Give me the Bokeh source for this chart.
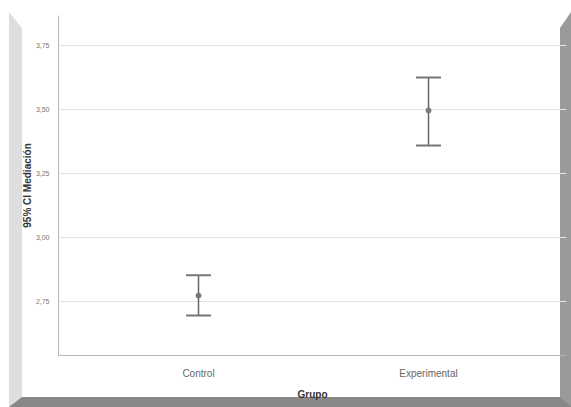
from bokeh.plotting import figure
from bokeh.models import ColumnDataSource, Whisker, TeeHead, FixedTicker, InlineStyleSheet
from bokeh.embed import file_html
from bokeh.resources import INLINE

# Group means of "Mediación" with their 95% confidence limits
groups = ["Control", "Experimental"]
means = [2.773, 3.496]
ci_lower = [2.695, 3.359]
ci_upper = [2.852, 3.625]

y_ticks = [2.75, 3.00, 3.25, 3.50, 3.75]
y_tick_labels = ["2,75", "3,00", "3,25", "3,50", "3,75"]

pos = list(range(len(groups)))
src = ColumnDataSource(dict(x=pos, mean=means, lo=ci_lower, hi=ci_upper))

# beveled frame painted behind the (transparent) chart canvas
frame_css = InlineStyleSheet(css="""
:host { position: relative; background: white; }
:host::before {
  content: "";
  position: absolute;
  left: 9px; top: 12px; right: 0px; bottom: 0px;
  box-sizing: border-box;
  border-top: 16px solid transparent;
  border-left: 13px solid #dedede;
  border-right: 11px solid #9a9a9a;
  border-bottom: 10px solid #888888;
  pointer-events: none;
}
""")

p = figure(width=571, height=407, output_backend="svg", toolbar_location=None,
           x_range=(-0.6087, 1.6), y_range=(2.539, 3.867),
           min_border_left=58, min_border_right=5, min_border_top=15,
           min_border_bottom=52)
p.stylesheets = [frame_css]
p.outline_line_color = None
p.background_fill_color = None
p.border_fill_color = None

# y axis
p.yaxis.ticker = FixedTicker(ticks=y_ticks)
p.yaxis.major_label_overrides = dict(zip(y_ticks, y_tick_labels))
p.yaxis.major_tick_line_color = None
p.yaxis.minor_tick_line_color = None
p.yaxis.axis_line_color = "#b5b5b5"
p.yaxis.major_label_text_font = "Liberation Sans"
p.yaxis.major_label_text_font_size = "7px"
p.yaxis.major_label_text_color = "#777777"
p.yaxis.major_label_standoff = 3
p.yaxis.axis_label = "95% CI Mediación"
p.yaxis.axis_label_text_font = "Liberation Sans"
p.yaxis.axis_label_text_font_style = "bold"
p.yaxis.axis_label_text_font_size = "10px"
p.yaxis.axis_label_text_color = "#333333"
p.yaxis.axis_label_standoff = 0

# x axis
p.xaxis.ticker = FixedTicker(ticks=pos)
p.xaxis.major_label_overrides = {i: g for i, g in zip(pos, groups)}
p.xaxis.major_tick_line_color = None
p.xaxis.minor_tick_line_color = None
p.xaxis.axis_line_color = "#b5b5b5"
p.xaxis.major_label_text_font = "Liberation Sans"
p.xaxis.major_label_text_font_size = "10px"
p.xaxis.major_label_text_color = "#666666"
p.xaxis.major_label_standoff = 6
p.xaxis.axis_label = "Grupo"
p.xaxis.axis_label_text_font = "Liberation Sans"
p.xaxis.axis_label_text_font_style = "bold"
p.xaxis.axis_label_text_font_size = "10px"
p.xaxis.axis_label_text_color = "#333333"
p.xaxis.axis_label_standoff = 7

p.xgrid.grid_line_color = None
p.ygrid.ticker = FixedTicker(ticks=y_ticks)
p.ygrid.grid_line_color = "#e2e2e2"

# confidence intervals with the mean in the middle
w = Whisker(base="x", lower="lo", upper="hi", source=src,
            line_color="#666666", line_width=1.5,
            upper_head=TeeHead(size=25, line_color="#777777", line_width=2),
            lower_head=TeeHead(size=25, line_color="#777777", line_width=2))
p.add_layout(w)
p.scatter("x", "mean", source=src, size=5, color="#777777")

open("out.html", "w").write(file_html(p, INLINE))
